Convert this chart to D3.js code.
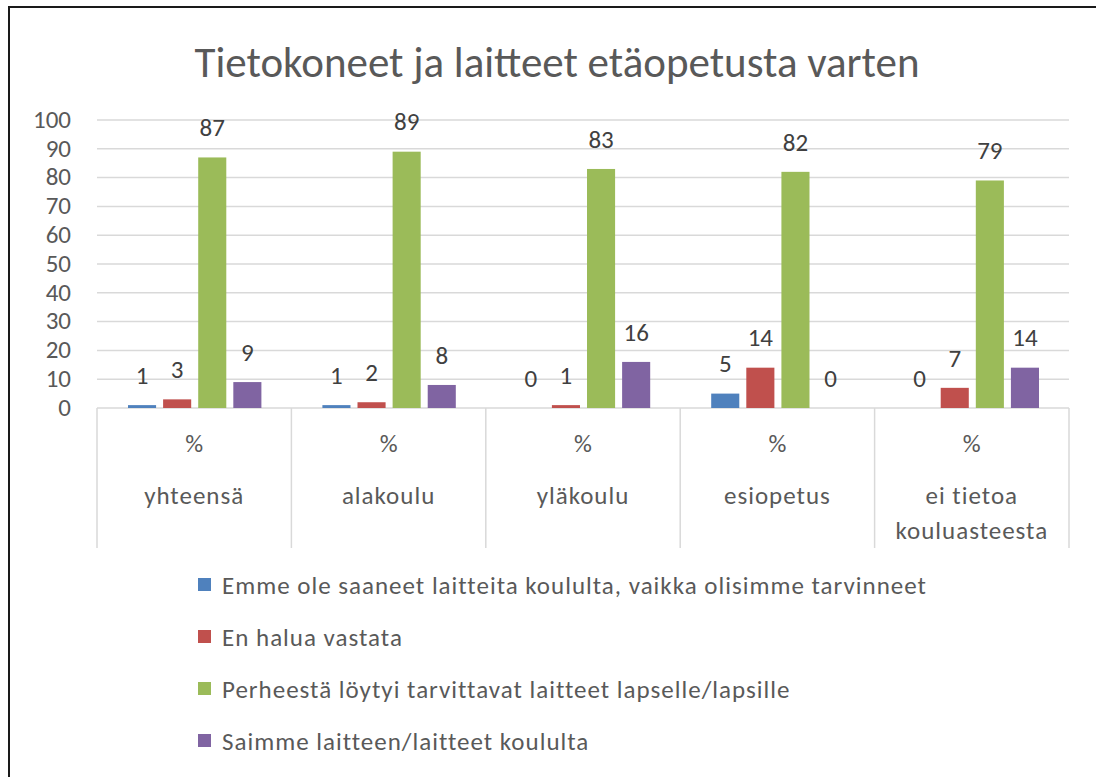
<!DOCTYPE html>
<html>
<head>
<meta charset="utf-8">
<script src="https://cdn.jsdelivr.net/npm/d3@7"></script>
<style>
  body { margin: 0; background: #fff; }
  text { font-family: Carlito, Calibri, "Open Sans", sans-serif; }
</style>
</head>
<body>
<div id="chart"></div>
<script>
const title = "Tietokoneet ja laitteet etäopetusta varten";
const categories = ["yhteensä", "alakoulu", "yläkoulu", "esiopetus", "ei tietoa kouluasteesta"];
const seriesNames = [
  "Emme ole saaneet laitteita koululta, vaikka olisimme tarvinneet",
  "En halua vastata",
  "Perheestä löytyi tarvittavat laitteet lapselle/lapsille",
  "Saimme laitteen/laitteet koululta"
];
const emme = [1, 1, 0, 5, 0];
const enHalua = [3, 2, 1, 14, 7];
const perheesta = [87, 89, 83, 82, 79];
const saimme = [9, 8, 16, 0, 14];
const colors = ["#4f81bd", "#c0504d", "#9bbb59", "#8064a2"];
const yTicks = [0, 10, 20, 30, 40, 50, 60, 70, 80, 90, 100];

const values = [emme, enHalua, perheesta, saimme];
const width = 1096, height = 777;

const svg = d3.select("#chart").append("svg")
  .attr("width", width)
  .attr("height", height);

// frame (only top and left edges show in the screenshot)
svg.append("path")
  .attr("d", "M9,780 L9,7 L1100,7")
  .attr("fill", "none")
  .attr("stroke", "#1a1a1a")
  .attr("stroke-width", 2);

svg.append("text")
  .attr("x", 557)
  .attr("y", 62)
  .attr("dy", "0.35em")
  .attr("text-anchor", "middle")
  .style("font-size", "43px")
  .style("fill", "#595959")
  .text(title);

const x0 = d3.scaleBand().domain(categories).range([97, 1069]);
const x1 = d3.scaleBand().domain(d3.range(4))
  .range([31, x0.bandwidth() - 30])
  .paddingInner(0.2);
const y = d3.scaleLinear().domain([0, 100]).range([408, 120]);

// gridlines
svg.append("g")
  .selectAll("line")
  .data(yTicks)
  .enter()
  .append("line")
  .attr("x1", 97)
  .attr("x2", 1069)
  .attr("y1", d => y(d))
  .attr("y2", d => y(d))
  .attr("stroke", "#d9d9d9")
  .attr("stroke-width", 1.5);

// y labels
svg.append("g")
  .selectAll("text")
  .data(yTicks)
  .enter()
  .append("text")
  .attr("x", 71)
  .attr("y", d => y(d) - 1)
  .attr("dy", "0.35em")
  .attr("text-anchor", "end")
  .style("font-size", "25px")
  .style("fill", "#595959")
  .text(d => d);

// category box dividers
const bounds = categories.map(c => x0(c)).concat([x0.range()[1]]);
svg.append("g")
  .selectAll("line")
  .data(bounds)
  .enter()
  .append("line")
  .attr("x1", d => d)
  .attr("x2", d => d)
  .attr("y1", y(0))
  .attr("y2", 548)
  .attr("stroke", "#d9d9d9")
  .attr("stroke-width", 1.5);

// category labels
const catG = svg.append("g")
  .selectAll("g")
  .data(categories)
  .enter()
  .append("g")
  .attr("transform", d => "translate(" + (x0(d) + x0.bandwidth() / 2) + ",0)");

catG.append("text")
  .attr("y", 443)
  .attr("dy", "0.35em")
  .attr("text-anchor", "middle")
  .style("font-size", "25px")
  .style("fill", "#595959")
  .text("%");

catG.each(function(d) {
  const lines = d === "ei tietoa kouluasteesta" ? ["ei tietoa", "kouluasteesta"] : [d];
  d3.select(this).selectAll("text.name")
    .data(lines)
    .enter()
    .append("text")
    .attr("class", "name")
    .attr("y", (l, i) => 495 + i * 35)
    .attr("dy", "0.35em")
    .attr("text-anchor", "middle")
    .style("font-size", "25px")
    .style("letter-spacing", "1px")
    .style("fill", "#595959")
    .text(l => l);
});

// bars
const groups = svg.append("g")
  .selectAll("g")
  .data(categories)
  .enter()
  .append("g")
  .attr("transform", d => "translate(" + x0(d) + ",0)");

groups.selectAll("rect")
  .data((c, ci) => values.map((v, si) => ({ s: si, v: v[ci] })))
  .enter()
  .append("rect")
  .attr("x", d => x1(d.s))
  .attr("width", x1.bandwidth())
  .attr("y", d => y(d.v))
  .attr("height", d => y(0) - y(d.v))
  .attr("fill", d => colors[d.s]);

groups.selectAll("text.val")
  .data((c, ci) => values.map((v, si) => ({ s: si, v: v[ci] })))
  .enter()
  .append("text")
  .attr("class", "val")
  .attr("x", d => x1(d.s) + x1.bandwidth() / 2)
  .attr("y", d => y(d.v) - 30)
  .attr("dy", "0.35em")
  .attr("text-anchor", "middle")
  .style("font-size", "25px")
  .style("fill", "#404040")
  .text(d => d.v);

// legend
const leg = svg.append("g")
  .selectAll("g")
  .data(seriesNames)
  .enter()
  .append("g")
  .attr("transform", (d, i) => "translate(198," + (585 + i * 52) + ")");

leg.append("rect")
  .attr("x", 0)
  .attr("y", -7)
  .attr("width", 13)
  .attr("height", 13)
  .attr("fill", (d, i) => colors[i]);

leg.append("text")
  .attr("x", 24)
  .attr("dy", "0.35em")
  .style("font-size", "25px")
  .style("letter-spacing", "1px")
  .style("fill", "#595959")
  .text(d => d);
</script>
</body>
</html>
